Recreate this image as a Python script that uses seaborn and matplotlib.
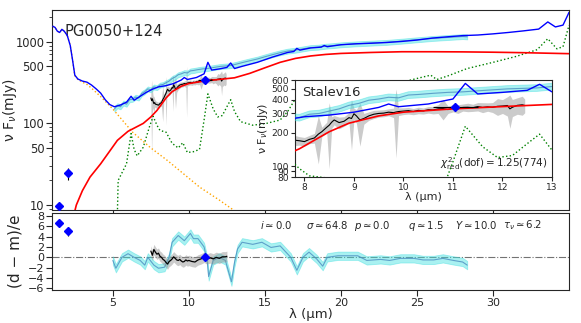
import matplotlib
matplotlib.use('Agg')
import matplotlib.pyplot as plt
from matplotlib.ticker import NullFormatter, NullLocator
import numpy as np
import seaborn as sns

# ---- photometry ----
phot_wl = [1.48, 2.05, 11.05]
phot_flux = [9.7, 24.5, 340]
phot_err = [1.0, 4.0, 25]
phot_xerr = [0.0, 0.0, 0.45]
phot_res = [6.7, 5.0, 0.0]
phot_res_err = [0.7, 0.8, 0.5]

# ---- model components ----
model_wl = [1.05, 1.2, 1.35, 1.5, 1.65, 1.8, 2.0, 2.2, 2.35, 2.5, 2.7, 3.0, 3.3, 3.6, 3.9,
            4.2, 4.5, 4.8, 5.1, 5.5, 5.9, 6.2, 6.4, 6.8, 7.2, 7.6, 8.0, 8.5, 9.0, 9.5, 9.7,
            9.9, 10.5, 11.0, 11.25, 11.5, 12.0, 12.5, 12.75, 13.0, 13.5, 14.5, 15.5, 16.5,
            16.9, 17.1, 17.3, 18.0, 18.7, 18.9, 19.1, 20.0, 21.0, 22.0, 23.0, 24.0, 25.0,
            26.0, 27.0, 28.0, 29.0, 30.0, 31.0, 32.0, 33.0, 33.6, 34.1, 34.6, 35.0]
model_tot = [1550, 1500, 1350, 1300, 1420, 1350, 1200, 900, 600, 390, 350, 330, 320, 295, 265,
             235, 195, 170, 160, 168, 182, 215, 192, 215, 240, 262, 280, 290, 308, 340, 365,
             345, 365, 405, 560, 450, 465, 485, 550, 470, 500, 560, 650, 740,
             760, 830, 790, 840, 860, 900, 870, 920, 945, 960, 980, 1010, 1050,
             1110, 1150, 1190, 1210, 1250, 1300, 1360, 1430, 1750, 1520, 1600, 2300]

red_wl = [2.3, 2.6, 3.0, 3.5, 4.2, 5.3, 6.0, 7.0, 7.5, 7.9, 8.5, 8.9, 9.5, 10.0, 11.0,
          12.0, 13.0, 14.0, 15.0, 16.0, 17.0, 18.0, 19.0, 20.0, 22.0, 24.0, 26.0, 28.0,
          30.0, 32.0, 35.0]
red_flux = [6, 10, 15, 22, 32, 62, 80, 100, 120, 144, 205, 245, 285, 308, 330,
            346, 362, 410, 480, 560, 625, 670, 700, 720, 740, 755, 755, 752,
            745, 735, 715]

orange_wl = [1.05, 1.2, 1.35, 1.5, 1.65, 1.8, 2.0, 2.2, 2.35, 2.5, 2.7, 3.0, 3.3, 3.6,
             4.2, 5.0, 6.3, 7.5, 8.6, 10.7, 12.0, 13.2]
orange_flux = [1550, 1500, 1350, 1300, 1420, 1350, 1200, 900, 600, 385, 345, 320, 300, 270,
               213, 150, 78, 50, 35, 16.6, 11.5, 8]

green_wl = [5.3, 5.35, 5.9, 6.2, 6.4, 6.6, 7.0, 7.4, 7.65, 7.9, 8.1, 8.5, 8.9, 9.3, 9.6,
            9.9, 10.3, 10.7, 11.0, 11.25, 11.6, 11.9, 12.2, 12.5, 12.75, 13.0, 13.4, 14.2,
            15.1, 16.0, 16.5, 17.0, 17.3, 18.0, 20.0, 22.0, 24.0, 25.9, 26.3, 27.0, 28.3,
            30.0, 31.5, 32.9, 33.6, 34.2, 34.6, 35.0]
green_flux = [8, 20, 32, 75, 48, 40, 51, 90, 122, 95, 82, 78, 57, 50, 58,
              44, 45, 48, 110, 230, 150, 120, 125, 160, 195, 140, 105, 95,
              100, 110, 140, 200, 180, 200, 235, 270, 320, 390, 345, 380, 470,
              560, 660, 800, 1090, 820, 870, 1600]

# ---- IRS spectrum (cyan) ----
irs_wl = [5.1, 5.3, 5.5, 5.7, 5.9, 6.1, 6.3, 6.5, 6.7, 6.9, 7.1, 7.3, 7.5, 7.7, 7.9, 8.1,
          8.3, 8.5, 8.7, 8.9, 9.1, 9.3, 9.5, 9.7, 9.9, 10.1, 10.3, 10.6, 10.9, 11.2, 11.5,
          11.8, 12.1, 12.4, 12.7, 13.0, 13.5, 14.0, 14.5, 15.0, 15.5, 16.0, 16.5, 17.0,
          17.5, 18.0, 18.5, 19.0, 19.5, 20.0, 21.0, 22.0, 23.0, 24.0, 25.0, 26.0, 27.0,
          28.0, 28.3]
irs_flux = [150, 165, 160, 178, 172, 195, 198, 210, 205, 232, 245, 265, 258, 280, 275, 295,
            300, 315, 330, 355, 370, 395, 405, 420, 415, 440, 445, 456, 465, 470, 480,
            490, 500, 505, 510, 525, 555, 585, 615, 655, 695, 735, 770, 790,
            820, 850, 860, 885, 900, 920, 945, 965, 985, 1020, 1060, 1100, 1130,
            1160, 1150]
irs_err_frac = 0.07

# ---- SL spectrum (black / gray) ----
sl_wl = [7.50, 7.55, 7.60, 7.65, 7.70, 7.75, 7.80, 7.90, 8.00, 8.10, 8.20, 8.28, 8.35, 8.45,
         8.50, 8.55, 8.60, 8.70, 8.80, 8.90, 8.95, 9.00, 9.05, 9.12, 9.20, 9.30, 9.40, 9.50,
         9.60, 9.70, 9.80, 9.85, 9.90, 10.0, 10.1, 10.2, 10.3, 10.4, 10.5, 10.6, 10.7, 10.8,
         10.9, 11.0, 11.1, 11.2, 11.3, 11.4, 11.5, 11.6, 11.7, 11.8, 11.9, 12.0, 12.1, 12.15,
         12.2, 12.3, 12.4, 12.45]
sl_flux = [205, 190, 200, 185, 175, 180, 172, 170, 167, 175, 180, 195, 205, 225,
           235, 250, 262, 248, 255, 275, 270, 298, 285, 262, 270, 285, 295, 300,
           302, 308, 305, 309, 312, 315, 318, 312, 320, 316, 324, 322, 330, 332,
           325, 335, 330, 340, 341, 338, 346, 340, 344, 341, 348, 350, 354, 330,
           341, 355, 359, 354]
sl_err = [25, 150, 60, 30, 40, 20, 18, 15, 15, 15, 18, 90, 20, 25,
          140, 30, 25, 30, 25, 30, 130, 35, 40, 110, 30, 25, 25, 22,
          22, 22, 30, 190, 25, 22, 22, 20, 22, 20, 22, 25, 30, 70,
          25, 25, 30, 25, 30, 25, 30, 35, 30, 35, 60, 50, 70, 110,
          60, 60, 70, 50]

# ---- residuals ----
res_irs_wl = [5.0, 5.2, 5.6, 6.0, 6.4, 6.8, 7.1, 7.3, 7.7, 8.0, 8.4, 8.7, 8.9, 9.3, 9.7,
              10.1, 10.3, 10.6, 11.0, 11.2, 11.3, 11.6, 12.0, 12.4, 12.8, 13.0, 13.2, 13.5,
              14.2, 14.8, 15.4, 16.0, 16.7, 17.1, 17.5, 17.9, 18.4, 18.8, 19.1, 19.8, 20.4,
              21.1, 21.7, 22.6, 23.2, 23.9, 24.8, 25.4, 26.1, 26.7, 27.4, 28.0, 28.3]
res_irs = [-0.6, -2.1, 0.0, 0.7, 0.0, -0.6, -1.5, 0.0, -1.5, -2.1, -1.9, 0.0, 2.9, 4.2, 3.2,
           4.6, 3.6, 3.6, 2.0, -0.6, -3.7, -0.6, 0.0, -0.6, -4.7, -1.0, 1.6, 2.9,
           2.5, 2.9, 1.9, 2.2, 0.0, -2.5, 0.0, 1.0, -0.3, -1.7, 0.0, 0.3, 0.3,
           0.3, -0.6, -0.4, -0.6, -0.2, -0.2, -0.5, -0.5, -0.2, -0.6, -0.9, -1.5]
res_sl_wl = [7.5, 7.6, 7.7, 7.8, 7.9, 8.0, 8.1, 8.2, 8.3, 8.4, 8.5, 8.6, 8.7, 8.8, 8.9, 9.0,
             9.1, 9.2, 9.3, 9.4, 9.5, 9.6, 9.7, 9.8, 9.9, 10.0, 10.2, 10.4, 10.6, 10.8, 11.0,
             11.2, 11.4, 11.6, 11.8, 12.0, 12.2, 12.4, 12.5]
res_sl = [1.2, 0.4, 1.5, 1.0, 0.6, 0.8, 0.2, 0.0, -0.4, -0.6, -1.0, -1.3, -0.8, -0.6, -0.3, 0.1,
          -0.2, -0.5, -0.6, -0.4, -0.7, -0.9, -0.8, -0.5, -0.7, -0.6, -0.8, -0.9, -0.5, -0.3, 0.0,
          -0.3, -0.1, -0.3, 0.0, -0.2, 0.1, 0.1, 0.2]
res_irs_band = 0.8
res_sl_band = 1.0

param_text = [r'$i\simeq0.0$', r'$\sigma\simeq64.8$', r'$p\simeq0.0$', r'$q\simeq1.5$',
              r'$Y\simeq10.0$', r'$\tau_\nu\simeq6.2$']

sns.set_style('ticks')
plt.rcParams['font.family'] = ['DejaVu Sans']

CYAN = '#40e0e0'
CLINE = '#4a8cc0'


def draw_all(ax, lw=1.0):
    irs = np.array(irs_flux)
    ax.fill_between(sl_wl, np.array(sl_flux) - np.array(sl_err), np.array(sl_flux) + np.array(sl_err),
                    color='0.55', alpha=0.45, lw=0, zorder=1)
    sns.lineplot(x=sl_wl, y=sl_flux, ax=ax, color='k', lw=0.8, zorder=2)
    ax.fill_between(irs_wl, irs * (1 - irs_err_frac), irs * (1 + irs_err_frac),
                    color=CYAN, alpha=0.45, lw=0.6, zorder=3)
    sns.lineplot(x=irs_wl, y=irs_flux, ax=ax, color=CLINE, lw=0.8, alpha=0.8, zorder=4)
    sns.lineplot(x=green_wl, y=green_flux, ax=ax, color='green', lw=lw, ls=':', zorder=5)
    sns.lineplot(x=orange_wl, y=orange_flux, ax=ax, color='orange', lw=lw, ls=':', zorder=5)
    sns.lineplot(x=red_wl, y=red_flux, ax=ax, color='red', lw=lw * 1.2, zorder=6)
    sns.lineplot(x=model_wl, y=model_tot, ax=ax, color='blue', lw=lw, zorder=7)
    ax.errorbar(phot_wl, phot_flux, yerr=phot_err, xerr=phot_xerr, fmt='D', color='blue',
                ecolor='k', elinewidth=0.8, ms=4.5, capsize=0, zorder=8)


fig = plt.figure(figsize=(5.81, 3.23), dpi=100)
ax = fig.add_axes([0.0895, 0.350, 0.890, 0.619])
axr = fig.add_axes([0.0895, 0.102, 0.890, 0.238])
axi = fig.add_axes([0.507, 0.452, 0.443, 0.300])

draw_all(ax)
ax.set_yscale('log')
ax.set_xlim(1, 35)
ax.set_ylim(8.7, 2450)
ax.set_yticks([10, 50, 100, 500, 1000], ['10', '50', '100', '500', '1000'])
ax.yaxis.set_minor_formatter(NullFormatter())
ax.set_xticks([5, 10, 15, 20, 25, 30])
ax.tick_params(labelbottom=False, labelsize=8.3, length=4, pad=1.5)
ax.tick_params(which='minor', length=2)
ax.set_ylabel(r'ν F$_\nu$(mJy)', fontsize=10)
ax.yaxis.set_label_coords(-0.064, 0.5)
ax.set_xlabel('')
ax.text(0.025, 0.93, 'PG0050+124', transform=ax.transAxes, fontsize=10.6, va='top')

# inset
axi.set_facecolor('white')
draw_all(axi, lw=1.0)
axi.set_yscale('log')
axi.set_xlim(7.8, 13)
axi.set_ylim(80, 600)
axi.yaxis.set_minor_locator(NullLocator())
axi.set_yticks([80, 90, 100, 200, 300, 400, 500, 600],
               ['80', '90', '100', '200', '300', '400', '500', '600'])
axi.yaxis.set_minor_formatter(NullFormatter())
axi.set_xticks([8, 9, 10, 11, 12, 13])
axi.tick_params(labelsize=6.6, length=3, pad=1)
axi.set_ylabel(r'ν F$_\nu$(mJy)', fontsize=8, labelpad=1)
axi.set_xlabel('λ (µm)', fontsize=8, labelpad=0.5)
axi.text(0.03, 0.94, 'Stalev16', transform=axi.transAxes, fontsize=9.5, va='top')
axi.text(0.985, 0.05, r'$\chi^2_{\rm red}$(dof)$=1.25(774)$', transform=axi.transAxes,
         fontsize=7.5, ha='right', va='bottom')

# residuals
res_irs_a = np.array(res_irs)
res_sl_a = np.array(res_sl)
axr.axhline(0, color='0.45', ls='-.', lw=0.8, zorder=0)
axr.fill_between(res_irs_wl, res_irs_a - res_irs_band, res_irs_a + res_irs_band,
                 color=CYAN, alpha=0.45, lw=0.6, zorder=1)
sns.lineplot(x=res_irs_wl, y=res_irs, ax=axr, color=CLINE, lw=0.8, alpha=0.8, zorder=2)
axr.fill_between(res_sl_wl, res_sl_a - res_sl_band, res_sl_a + res_sl_band,
                 color='0.55', alpha=0.45, lw=0, zorder=3)
sns.lineplot(x=res_sl_wl, y=res_sl, ax=axr, color='k', lw=0.9, zorder=4)
axr.errorbar(phot_wl, phot_res, yerr=phot_res_err, fmt='D', color='blue', ecolor='k',
             elinewidth=0.8, ms=4.5, capsize=0, zorder=5)
axr.set_xlim(1, 35)
axr.set_ylim(-6.3, 8.5)
axr.set_yticks([-6, -4, -2, 0, 2, 4, 6, 8])
axr.set_xticks([5, 10, 15, 20, 25, 30])
axr.tick_params(labelsize=8, length=4, pad=1.5)
axr.set_ylabel('(d − m)/e', fontsize=11)
axr.yaxis.set_label_coords(-0.058, 0.5)
axr.set_xlabel('λ (µm)', fontsize=9.5, labelpad=0)
for xp, t in zip([0.403, 0.492, 0.585, 0.688, 0.780, 0.872], param_text):
    axr.text(xp, 0.93, t, transform=axr.transAxes, fontsize=7.3, va='top')

fig.savefig('out.png', dpi=100)
